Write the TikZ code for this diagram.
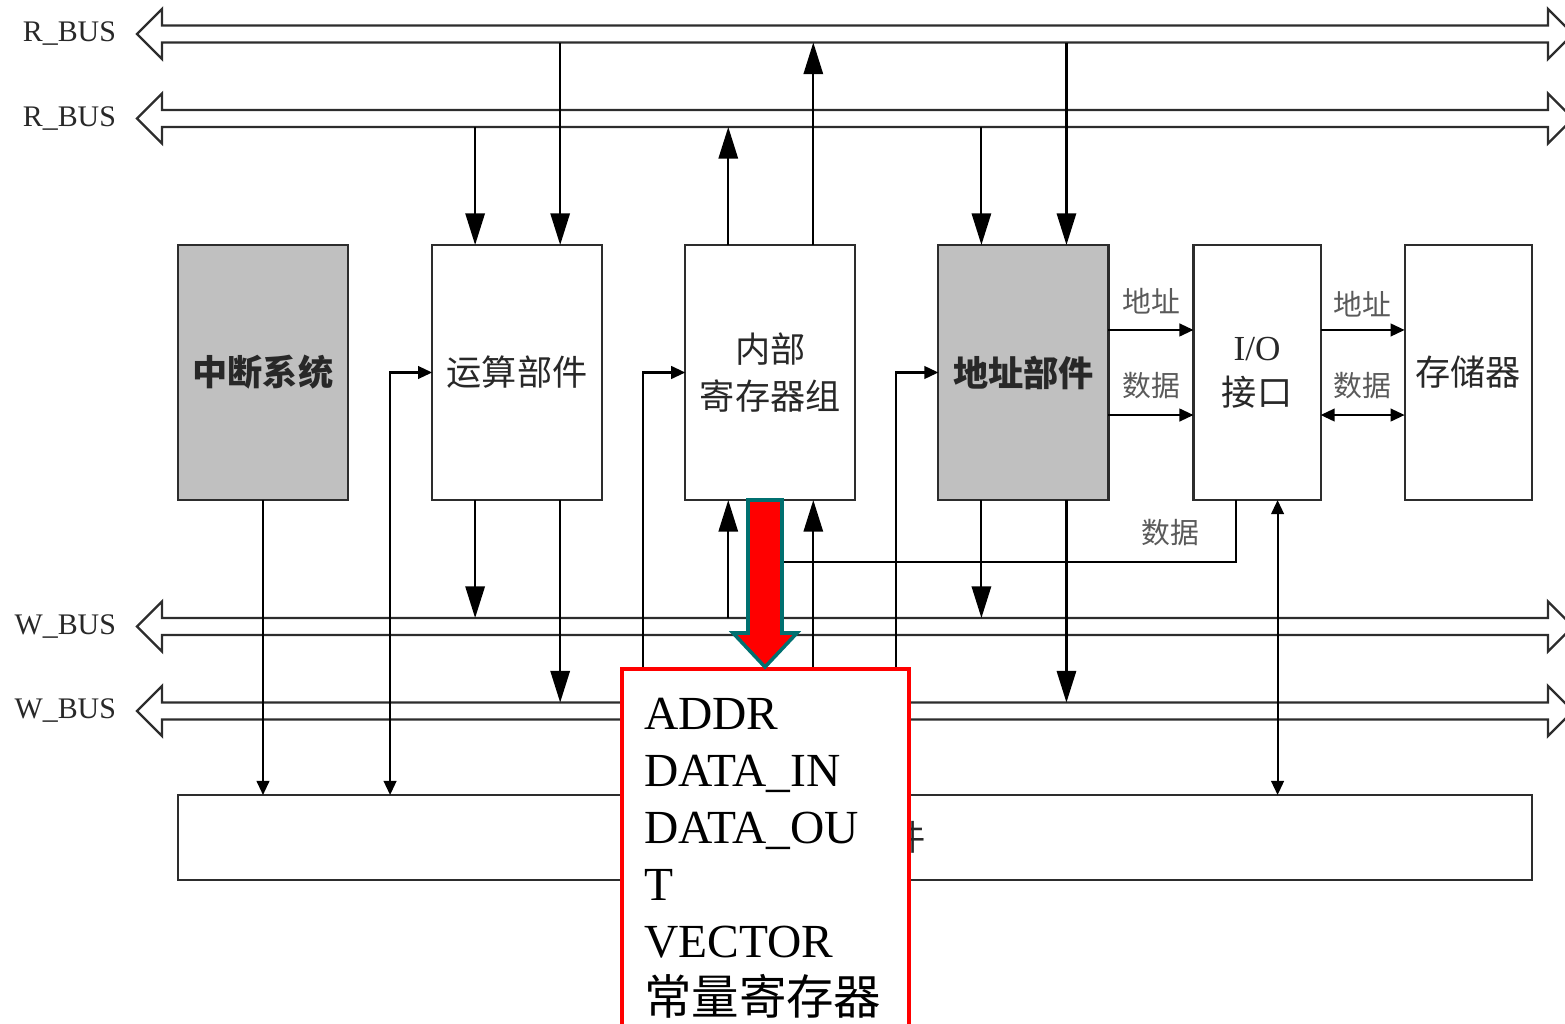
\documentclass[tikz,border=0pt]{standalone}
\usepackage{fontspec}
\setmainfont{Liberation Serif}
\newfontfamily\cjk{Noto Sans CJK SC}
\usetikzlibrary{arrows.meta,positioning,calc}
\definecolor{blkgray}{RGB}{192,192,192}
\definecolor{edgegray}{RGB}{45,45,45}
\definecolor{txtgray}{RGB}{40,40,40}
\definecolor{lblgray}{RGB}{90,90,90}
\definecolor{arrowteal}{RGB}{0,112,112}

\begin{document}
\begin{tikzpicture}[
    x=0.01cm, y=-0.01cm,
    line width=0.6pt,
    >={Triangle[length=4pt,width=3.6pt]},
    blk/.style={rectangle, draw=edgegray, fill=white, minimum width=1.7cm, minimum height=2.55cm, inner sep=0pt, outer sep=0pt, align=center, text=txtgray, font=\cjk\fontsize{10}{13.4}\selectfont},
    grayblk/.style={blk, fill=blkgray, font=\cjk\bfseries\fontsize{10}{13.4}\selectfont},
    narrowblk/.style={blk, minimum width=1.27cm},
    busline/.style={draw=edgegray, line width=0.65pt},
    buslabel/.style={font=\fontsize{8.5}{10}\selectfont, text=txtgray, inner sep=0pt},
    busarr/.style={-{Triangle[length=9pt,width=5.5pt]}},
    sig/.style={font=\cjk\fontsize{8.2}{10}\selectfont, text=lblgray},
    constbox/.style={rectangle, draw=red, line width=1.2pt, fill=white, inner sep=0pt},
    constlist/.style={font=\fontsize{13.5}{16.2}\selectfont, align=left, inner sep=0pt},
    fatarrow/.style={fill=red, draw=arrowteal, line width=1pt, line join=miter}
]
    \useasboundingbox (0,0) rectangle (1565,1024);

    % Buses
    \foreach \cy/\nm/\lab in {34/ra/R\_BUS, 118.5/rb/R\_BUS, 626.5/wa/W\_BUS, 711/wb/W\_BUS} {
        \draw[busline] (162,\cy-8.5) -- (1548,\cy-8.5) -- (1548,\cy-25) -- (1573,\cy) -- (1548,\cy+25)
            -- (1548,\cy+8.5) -- (162,\cy+8.5) -- (162,\cy+25) -- (137,\cy) -- (162,\cy-25) -- cycle;
        \node[buslabel, anchor=east] (\nm-lab) at (117,\cy) {\lab};
        \coordinate (\nm-n) at (0,\cy-8.5);
        \coordinate (\nm-s) at (0,\cy+8.5);
    }

    % Units
    \node[grayblk] (intr) at (263,372.5) {中断系统};
    \node[blk, right=0.84cm of intr] (alu) {运算部件};
    \node[blk, right=0.83cm of alu] (regs) {内部\\寄存器组};
    \node[grayblk, right=0.83cm of regs] (addr) {地址部件};
    \node[narrowblk, right=0.85cm of addr, font=\fontsize{10}{12.8}\selectfont] (io) {I/O\\{\cjk 接口}};
    \node[narrowblk, right=0.84cm of io] (mem) {存储器};
    \node[blk, anchor=north west, minimum width=13.53cm, minimum height=0.85cm] (ctrl) at (178,795) {控制部件};

    \foreach \b in {alu,regs,addr} {
        \coordinate (\b-nl) at ([xshift=-0.42cm]\b.north);
        \coordinate (\b-nr) at ([xshift=0.43cm]\b.north);
        \coordinate (\b-sl) at ([xshift=-0.42cm]\b.south);
        \coordinate (\b-sr) at ([xshift=0.43cm]\b.south);
        \coordinate (\b-in) at ([xshift=-0.42cm]\b.west);
    }
    \coordinate (io-sl) at ([xshift=-0.215cm]io.south);
    \coordinate (io-sr) at ([xshift=0.205cm]io.south);
    \coordinate (datline) at ([yshift=-0.62cm]regs.south);

    % R_BUS <-> units
    \draw[busarr] (alu-nl |- rb-s) -- (alu-nl);
    \draw[busarr] (alu-nr |- ra-s) -- (alu-nr);
    \draw[busarr] (regs-nl) -- (regs-nl |- rb-s);
    \draw[busarr] (regs-nr) -- (regs-nr |- ra-s);
    \draw[busarr] (addr-nl |- rb-s) -- (addr-nl);
    \draw[busarr] (addr-nr |- ra-s) -- (addr-nr);

    % units <-> W_BUS
    \draw[busarr] (alu-sl) -- (alu-sl |- wa-n);
    \draw[busarr] (alu-sr) -- (alu-sr |- wb-n);
    \draw[busarr] (regs-sl |- wa-n) -- (regs-sl);
    \draw[busarr] (regs-sr |- wb-n) -- (regs-sr);
    \draw[busarr] (addr-sl) -- (addr-sl |- wa-n);
    \draw[busarr] (addr-sr) -- (addr-sr |- wb-n);

    % Control lines
    \draw[->] (intr.south) -- (intr.south |- ctrl.north);
    \foreach \b in {alu,regs,addr}
        \draw[<->] (\b.west) -| (\b-in |- ctrl.north);
    \draw[<->] (io-sr) -- (io-sr |- ctrl.north);
    \draw (io-sl) |- (datline) node[pos=0.57, above=1pt, sig] {数据};

    % Address / data paths
    \draw[->] ([yshift=0.425cm]addr.east) -- ([yshift=0.425cm]io.west) node[midway, above=1pt, sig] {地址};
    \draw[->] ([yshift=-0.425cm]addr.east) -- ([yshift=-0.425cm]io.west) node[midway, above=1pt, sig] {数据};
    \draw[->] ([yshift=0.425cm]io.east) -- ([yshift=0.425cm]mem.west) node[midway, above=0pt, sig] {地址};
    \draw[<->] ([yshift=-0.425cm]io.east) -- ([yshift=-0.425cm]mem.west) node[midway, above=1pt, sig] {数据};

    % Constant registers
    \node[constbox, anchor=north west, minimum width=2.87cm, minimum height=4cm] (consts) at (620,667) {};
    \node[constlist, anchor=north west] (constlist) at (643,697) {ADDR\\DATA\_IN\\DATA\_OU\\T\\VECTOR\\{\cjk 常量寄存器}};
    \draw[fatarrow] (748,500) -- (782,500) -- (782,633) -- (797,633) -- (765,667) -- (733,633) -- (748,633) -- cycle;
\end{tikzpicture}
\end{document}
